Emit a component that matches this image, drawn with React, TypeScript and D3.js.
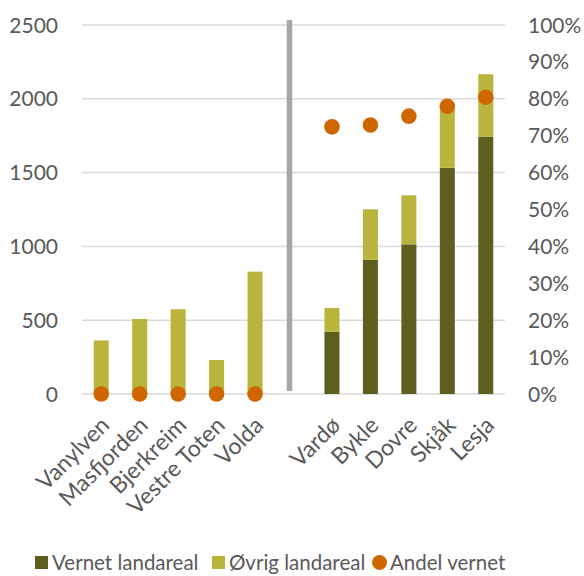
import React from "react";
import * as d3 from "d3";

const categories = ["Vanylven", "Masfjorden", "Bjerkreim", "Vestre Toten", "Volda", "", "Vardø", "Bykle", "Dovre", "Skjåk", "Lesja"];
const vernet = [0, 0, 0, 0, 0, null, 422, 910, 1014, 1533, 1743];
const ovrig = [363, 508, 574, 230, 829, null, 161, 341, 332, 409, 423];
const andel = [0, 0, 0, 0, 0, null, 0.724, 0.729, 0.753, 0.78, 0.804];
const leftTicks = [0, 500, 1000, 1500, 2000, 2500];
const rightTicks = [0, 0.1, 0.2, 0.3, 0.4, 0.5, 0.6, 0.7, 0.8, 0.9, 1.0];
const legendItems = ["Vernet landareal", "Øvrig landareal", "Andel vernet"];

const W = 584, H = 576;
const C_VERNET = "#5e5e1f";
const C_OVRIG = "#b8b43c";
const C_DOT = "#d06600";
const TXT = "#595959";
const FONT = "Lato, 'Open Sans', sans-serif";

export default function App() {
  const x = d3.scaleBand<string>().domain(categories.map((c, i) => String(i))).range([82, 505]).padding(0);
  const yL = d3.scaleLinear().domain([0, 2500]).range([394, 25]);
  const yR = d3.scaleLinear().domain([0, 1]).range([394, 25]);
  const bw = 15;
  const cx = (i: number) => (x(String(i)) as number) + x.bandwidth() / 2;
  const sepX = (cx(4) + cx(6)) / 2 - 4;

  return (
    <svg width={W} height={H} style={{ position: "absolute", left: 0, top: 0, background: "#fff" }} fontFamily={FONT}>
      {leftTicks.map((t) => (
        <line key={"g" + t} x1={82} x2={505} y1={yL(t)} y2={yL(t)} stroke="#d9d9d9" strokeWidth={1.5} />
      ))}
      {leftTicks.map((t) => (
        <text key={"l" + t} x={58} y={yL(t)} dy="0.36em" textAnchor="end" fontSize={21} fill={TXT}>{t}</text>
      ))}
      {rightTicks.map((t) => (
        <text key={"r" + t} x={528} y={yR(t)} dy="0.36em" textAnchor="start" fontSize={21} fill={TXT}>{d3.format(".0%")(t)}</text>
      ))}
      <line x1={sepX} x2={sepX} y1={20} y2={391} stroke="#a6a6a6" strokeWidth={5.5} />
      {categories.map((c, i) => {
        if (vernet[i] === null) return null;
        const v = vernet[i] as number;
        const o = ovrig[i] as number;
        return (
          <g key={"b" + i}>
            {v > 0 && <rect x={cx(i) - bw / 2} width={bw} y={yL(v)} height={yL(0) - yL(v)} fill={C_VERNET} />}
            <rect x={cx(i) - bw / 2} width={bw} y={yL(v + o)} height={yL(v) - yL(v + o)} fill={C_OVRIG} />
          </g>
        );
      })}
      {categories.map((c, i) =>
        andel[i] === null ? null : (
          <circle key={"d" + i} cx={cx(i)} cy={yR(andel[i] as number)} r={7.8} fill={C_DOT} />
        )
      )}
      {categories.map((c, i) =>
        c === "" ? null : (
          <text key={"x" + i} transform={`translate(${cx(i) + 4},${421}) rotate(-45)`} textAnchor="end" dy="0.35em" fontSize={23} fill={TXT}>{c}</text>
        )
      )}
      <g>
        <rect x={35} y={556} width={13} height={13} fill={C_VERNET} />
        <text x={52} y={562.5} dy="0.36em" fontSize={20.5} fill={TXT}>{legendItems[0]}</text>
        <rect x={212} y={556} width={13} height={13} fill={C_OVRIG} />
        <text x={229} y={562.5} dy="0.36em" fontSize={20.5} fill={TXT}>{legendItems[1]}</text>
        <circle cx={379.5} cy={562.5} r={7.5} fill={C_DOT} />
        <text x={390} y={562.5} dy="0.36em" fontSize={20.5} fill={TXT}>{legendItems[2]}</text>
      </g>
    </svg>
  );
}
